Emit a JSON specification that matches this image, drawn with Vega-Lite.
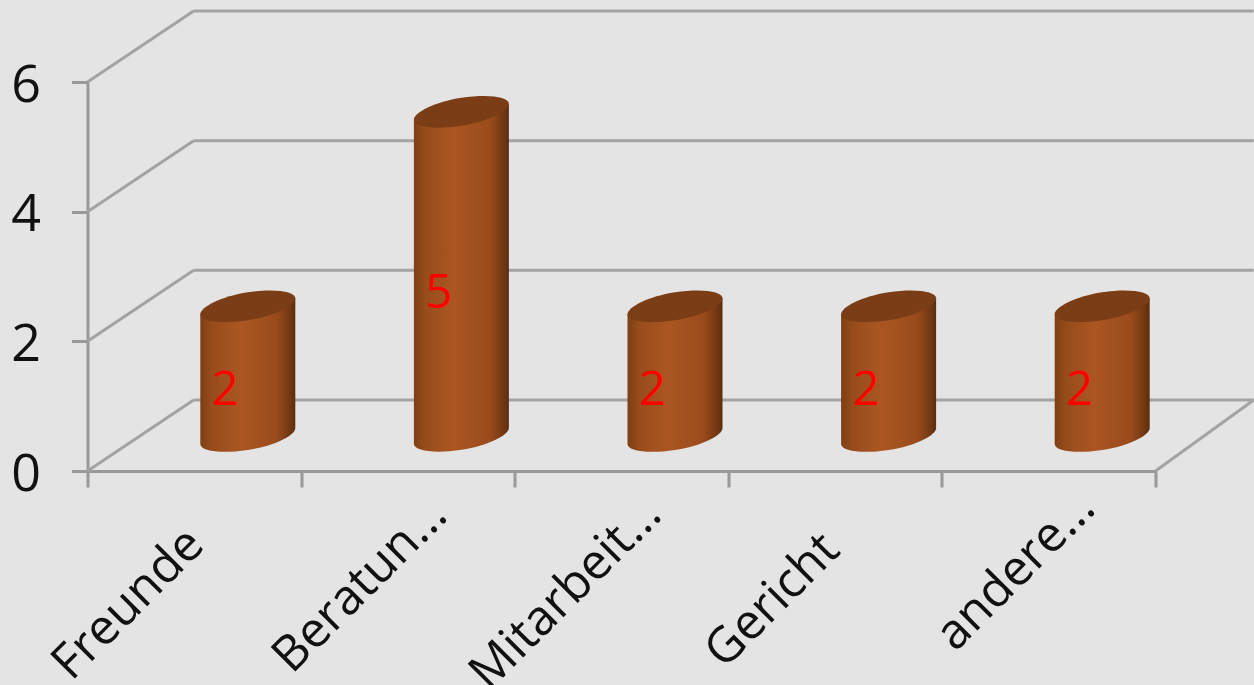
{
"$schema":"https://vega.github.io/schema/vega-lite/v6.json",
"width":1068,"height":389,
"autosize":{"type":"none"},
"padding":{"left":87.5,"top":82,"right":98.5,"bottom":214},
"background":"#e4e4e4",
"config":{"view":{"stroke":null},"axis":{"grid":false,"labelFont":"Open Sans","labelFontSize":52,"labelColor":"#111111","domainColor":"#999999","tickColor":"#999999","domainWidth":3,"tickWidth":3,"tickSize":16}},
"datasets":{
"bars":[{"category":"Freunde","value":2},{"category":"Beratun...","value":5},{"category":"Mitarbeit...","value":2},{"category":"Gericht","value":2},{"category":"andere...","value":2}],
"levels":[{"level":0},{"level":2},{"level":4},{"level":6}],
"floor":[{"level":0}]
},
"resolve":{"scale":{"x":"independent","y":"independent","shape":"independent"},"axis":{"x":"independent","y":"independent"}},
"layer":[
{"data":{"name":"levels"},"mark":{"type":"rule","color":"#a3a3a3","strokeWidth":3,"y2Offset":-71},
 "encoding":{"x":{"datum":0,"type":"quantitative","scale":{"domain":[0,5],"nice":false},"axis":null},"x2":{"datum":0.497},
 "y":{"field":"level","type":"quantitative","scale":{"domain":[0,6],"nice":false},"axis":{"values":[0,2,4,6],"title":null,"labelPadding":31,"labelOffset":3,"format":"d"}},"y2":{"field":"level"}}},
{"data":{"name":"levels"},"mark":{"type":"rule","color":"#a3a3a3","strokeWidth":3,"yOffset":-71,"y2Offset":-71},
 "encoding":{"x":{"datum":0.497,"type":"quantitative","scale":{"domain":[0,5],"nice":false},"axis":null},"x2":{"datum":5.46},
 "y":{"field":"level","type":"quantitative","scale":{"domain":[0,6],"nice":false},"axis":null},"y2":{"field":"level"}}},
{"data":{"name":"floor"},"mark":{"type":"rule","color":"#a3a3a3","strokeWidth":3,"y2Offset":-71},
 "encoding":{"x":{"datum":5,"type":"quantitative","scale":{"domain":[0,5],"nice":false},"axis":null},"x2":{"datum":5.46},
 "y":{"field":"level","type":"quantitative","scale":{"domain":[0,6],"nice":false},"axis":null},"y2":{"field":"level"}}},
{"data":{"name":"bars"},
 "mark":{"type":"point","filled":true,"size":4,"opacity":1,"strokeWidth":0,"xOffset":53.5,"yOffset":-35,
  "fill":{"x1":0,"y1":0,"x2":1,"y2":0,"gradient":"linear","stops":[{"offset":0,"color":"#7c3f15"},{"offset":0.12,"color":"#974c1b"},{"offset":0.42,"color":"#ab5622"},{"offset":0.8,"color":"#9a4b1c"},{"offset":0.95,"color":"#6f3712"},{"offset":1,"color":"#5c2d0e"}]}},
 "encoding":{"x":{"field":"category","type":"nominal","sort":null,"scale":{"type":"band","paddingInner":0,"paddingOuter":0},"axis":{"title":null,"labelAngle":-45,"tickBand":"extent","labelPadding":16,"labelFontSize":49,"labelOverlap":false,"labelLimit":400,
  "encoding":{"labels":{"dx":{"value":{"expr":"datum.label=='Gericht'?-30:datum.label=='Freunde'?-23:(datum.label=='andere...'?29:(datum.label=='Mitarbeit...'?20:19))"}}}}}},
 "y":{"field":"value","type":"quantitative","scale":{"domain":[0,6],"nice":false},"axis":null},
 "shape":{"field":"value","type":"nominal","legend":null,"scale":{"domain":[2,5],"range":[
 "M-47.5 8L-47.5 137.6C-47.5 144.8 -26.23 147.6 0 143.6C26.23 139.6 47.5 129.2 47.5 121.6L47.5 -8Z",
 "M-47.5 8L-47.5 332C-47.5 339.2 -26.23 342 0 338C26.23 334 47.5 323.6 47.5 316L47.5 -8Z"]}}}},
{"data":{"name":"bars"},
 "mark":{"type":"point","filled":true,"size":4,"opacity":1,"strokeWidth":0,"xOffset":53.5,"yOffset":-35,"fill":"#7a3d15",
  "shape":"M-47.5 8C-47.5 0.8 -26.23 -10 0 -14C26.23 -18 47.5 -15.2 47.5 -8C47.5 -0.8 26.23 10 0 14C-26.23 18 -47.5 15.2 -47.5 8Z"},
 "encoding":{"x":{"field":"category","type":"nominal","sort":null,"scale":{"type":"band","paddingInner":0,"paddingOuter":0},"axis":null},
 "y":{"field":"value","type":"quantitative","scale":{"domain":[0,6],"nice":false},"axis":null}}},
{"data":{"name":"bars"},
 "mark":{"type":"text","color":"#ff0000","font":"Open Sans","fontSize":47,"xOffset":31,"yOffset":-15,"baseline":"middle","align":"center"},
 "encoding":{"x":{"field":"category","type":"nominal","sort":null,"scale":{"type":"band","paddingInner":0,"paddingOuter":0},"axis":null},
 "y":{"field":"value","type":"quantitative","scale":{"domain":[0,12],"nice":false},"axis":null},
 "text":{"field":"value","type":"quantitative"}}}
]
}
